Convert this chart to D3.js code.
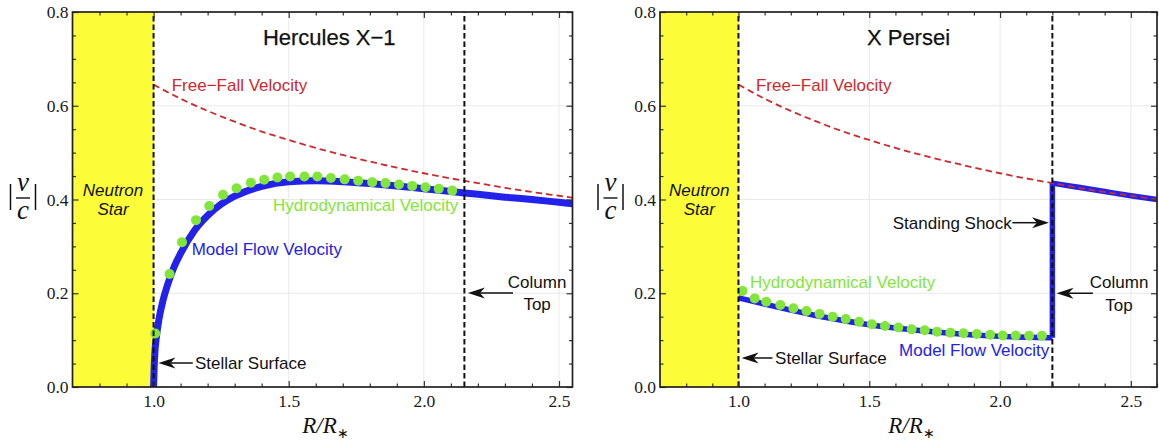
<!DOCTYPE html>
<html>
<head>
<meta charset="utf-8">
<script src="https://cdn.jsdelivr.net/npm/d3@7"></script>
<style>
body { margin: 0; background: #fff; }
text { font-family: "Liberation Sans", Arial, sans-serif; }
.tick text { font-family: "Liberation Serif", "Times New Roman", serif; font-size: 17.5px; fill: #1a1a1a; }
</style>
</head>
<body>
<svg id="chart" width="1159" height="442"></svg>
<script>
// Tick values
var x_major = [1.0, 1.5, 2.0, 2.5],
    x_minor = [0.8, 0.9, 1.1, 1.2, 1.3, 1.4, 1.6, 1.7, 1.8, 1.9, 2.1, 2.2, 2.3, 2.4, 2.6],
    y_major = [0, 0.2, 0.4, 0.6, 0.8],
    y_minor = [0.05, 0.1, 0.15, 0.25, 0.3, 0.35, 0.45, 0.5, 0.55, 0.65, 0.7, 0.75],
    y_grid = [0.2, 0.4, 0.6];

// Free-fall velocity (same curve in both panels)
var ff_r = [1.0, 1.1, 1.2, 1.3, 1.4, 1.5, 1.6, 1.7, 1.8, 1.9, 2.0, 2.1, 2.2, 2.3, 2.4, 2.5, 2.6],
    ff_v = [0.645, 0.615, 0.589, 0.566, 0.545, 0.527, 0.51, 0.495, 0.481, 0.468, 0.456, 0.445, 0.435, 0.425, 0.416, 0.408, 0.40];

// Hercules X-1
var her_model_r = [1.0, 1.002, 1.005, 1.01, 1.02, 1.035, 1.05, 1.075, 1.1, 1.15, 1.2, 1.25, 1.3, 1.4, 1.5, 1.6, 1.7, 1.8, 1.9, 2.0, 2.1, 2.2, 2.3, 2.4, 2.5, 2.55],
    her_model_v = [0.0, 0.04, 0.075, 0.105, 0.145, 0.185, 0.215, 0.255, 0.285, 0.333, 0.366, 0.39, 0.407, 0.428, 0.438, 0.44, 0.438, 0.434, 0.429, 0.423, 0.417, 0.411, 0.405, 0.4, 0.394, 0.391],
    her_hydro_r = [1.006, 1.059, 1.105, 1.157, 1.206, 1.257, 1.307, 1.36, 1.409, 1.458, 1.505, 1.558, 1.606, 1.656, 1.707, 1.757, 1.809, 1.858, 1.908, 1.957, 2.006, 2.055, 2.105],
    her_hydro_v = [0.114, 0.241, 0.309, 0.356, 0.386, 0.41, 0.424, 0.436, 0.442, 0.447, 0.449, 0.449, 0.449, 0.446, 0.443, 0.44, 0.437, 0.435, 0.432, 0.429, 0.426, 0.423, 0.419],
    her_column_top = 2.15;

// X Persei (model has a standing shock at the column top)
var per_low_r = [1.0, 1.1, 1.2, 1.3, 1.4, 1.5, 1.6, 1.7, 1.8, 1.9, 2.0, 2.1, 2.2],
    per_low_v = [0.19, 0.177, 0.164, 0.152, 0.142, 0.133, 0.126, 0.12, 0.115, 0.111, 0.108, 0.106, 0.105],
    per_high_r = [2.2, 2.3, 2.4, 2.5, 2.6],
    per_high_v = [0.435, 0.426, 0.417, 0.408, 0.40],
    per_hydro_r = [1.015, 1.062, 1.106, 1.16, 1.21, 1.26, 1.31, 1.36, 1.41, 1.461, 1.51, 1.56, 1.611, 1.662, 1.712, 1.759, 1.81, 1.86, 1.911, 1.962, 2.01, 2.06, 2.111, 2.16],
    per_hydro_v = [0.205, 0.189, 0.182, 0.175, 0.168, 0.162, 0.156, 0.15, 0.145, 0.139, 0.134, 0.13, 0.127, 0.123, 0.121, 0.118, 0.116, 0.1145, 0.113, 0.1116, 0.11, 0.11, 0.1095, 0.1094],
    per_column_top = 2.2;

var star_color = "#fcfc38",
    model_color = "#2222ea",
    hydro_color = "#82e63a",
    ff_color = "#cc2a2e",
    top_y = 12,
    bottom_y = 387;

var svg = d3.select("#chart");

function zip(a, b) { return a.map(function(d, i) { return [d, b[i]]; }); }

var panels = [
  {
    id: "her", domain: [0.7, 2.55], range: [72.5, 572.5], title: "Hercules X\u22121",
    model: [zip(her_model_r, her_model_v)], hydro: zip(her_hydro_r, her_hydro_v),
    column: her_column_top, model_width: 7,
    labels: [
      {t: "Free\u2212Fall Velocity", r: 1.067, v: 0.6315, c: ff_color},
      {t: "Hydrodynamical Velocity", r: 1.442, v: 0.3755, c: hydro_color},
      {t: "Model Flow Velocity", r: 1.141, v: 0.2816, c: model_color},
      {t: "Stellar Surface", r: 1.153, v: 0.0384, c: "#111"},
      {t: "Column", r: 2.419, v: 0.211, c: "#111", a: "middle"},
      {t: "Top", r: 2.419, v: 0.164, c: "#111", a: "middle"}
    ],
    arrows: [
      {r1: 1.145, r2: 1.018, v: 0.0512},
      {r1: 2.33, r2: 2.163, v: 0.2005}
    ]
  },
  {
    id: "per", domain: [0.7, 2.6], range: [660, 1157], title: "X Persei",
    model: [zip(per_low_r, per_low_v), zip(per_high_r, per_high_v)], hydro: zip(per_hydro_r, per_hydro_v),
    column: per_column_top, model_width: 5.5,
    labels: [
      {t: "Free\u2212Fall Velocity", r: 1.067, v: 0.6315, c: ff_color},
      {t: "Hydrodynamical Velocity", r: 1.044, v: 0.211, c: hydro_color},
      {t: "Model Flow Velocity", r: 1.614, v: 0.066, c: model_color},
      {t: "Stellar Surface", r: 1.14, v: 0.049, c: "#111"},
      {t: "Standing Shock", r: 2.045, v: 0.337, c: "#111", a: "end"},
      {t: "Column", r: 2.455, v: 0.211, c: "#111", a: "middle"},
      {t: "Top", r: 2.455, v: 0.162, c: "#111", a: "middle"}
    ],
    arrows: [
      {r1: 1.13, r2: 1.012, v: 0.0619},
      {r1: 2.047, r2: 2.187, v: 0.3505},
      {r1: 2.355, r2: 2.216, v: 0.2}
    ]
  }
];

panels.forEach(drawPanel);

function drawPanel(p) {
  var g = svg.append("g");
  var x = d3.scaleLinear().domain(p.domain).range(p.range);
  var y = d3.scaleLinear().domain([0, 0.8]).range([bottom_y, top_y]);
  var x0 = p.range[0], x1 = p.range[1];

  g.append("clipPath").attr("id", "clip_" + p.id)
    .append("rect").attr("x", x0).attr("y", top_y)
    .attr("width", x1 - x0).attr("height", bottom_y - top_y);

  var plot = g.append("g").attr("clip-path", "url(#clip_" + p.id + ")");

  // grid lines
  plot.selectAll("line.gx").data(x_major).enter().append("line")
    .attr("x1", x).attr("x2", x).attr("y1", top_y).attr("y2", bottom_y)
    .style("stroke", "#e9e9e9").style("stroke-width", 1);
  plot.selectAll("line.gy").data(y_grid).enter().append("line")
    .attr("x1", x0).attr("x2", x1).attr("y1", y).attr("y2", y)
    .style("stroke", "#e9e9e9").style("stroke-width", 1);

  // neutron star
  plot.append("rect")
    .attr("x", x(p.domain[0])).attr("y", y(0.8))
    .attr("width", x(1.0) - x(p.domain[0])).attr("height", y(0) - y(0.8))
    .style("fill", star_color);

  var curve = d3.line().x(function(d) { return x(d[0]); }).y(function(d) { return y(d[1]); })
    .curve(d3.curveMonotoneX);
  var straight = d3.line().x(function(d) { return x(d[0]); }).y(function(d) { return y(d[1]); });

  // model flow velocity
  p.model.forEach(function(seg) {
    plot.append("path").attr("d", curve(seg))
      .style("fill", "none").style("stroke", model_color)
      .style("stroke-width", p.model_width).style("stroke-linejoin", "round");
  });
  if (p.model.length > 1) {
    var a = p.model[0][p.model[0].length - 1], b = p.model[1][0];
    plot.append("path").attr("d", straight([a, b]))
      .style("fill", "none").style("stroke", model_color)
      .style("stroke-width", p.model_width);
  }

  // free-fall velocity
  plot.append("path").attr("d", curve(zip(ff_r, ff_v)))
    .style("fill", "none").style("stroke", ff_color)
    .style("stroke-width", 1.8).style("stroke-dasharray", "6.5,4");

  // hydrodynamical velocity
  plot.selectAll("circle").data(p.hydro).enter().append("circle")
    .attr("cx", function(d) { return x(d[0]); })
    .attr("cy", function(d) { return y(d[1]); })
    .attr("r", 5)
    .style("fill", hydro_color);

  // stellar surface and column top
  [1.0, p.column].forEach(function(r) {
    plot.append("line")
      .attr("x1", x(r)).attr("x2", x(r)).attr("y1", y(0)).attr("y2", y(0.8))
      .style("stroke", "#111").style("stroke-width", 2).style("stroke-dasharray", "5.5,3");
  });

  // axes (ticks pointing inward on all sides)
  var fmt = d3.format(".1f");
  var xm = x_minor.filter(function(d) { return d <= p.domain[1]; });
  g.append("g").attr("transform", "translate(0," + bottom_y + ")")
    .call(d3.axisBottom(x).tickValues(x_major).tickSize(-6).tickPadding(8).tickFormat(fmt));
  g.append("g").attr("transform", "translate(0," + bottom_y + ")")
    .call(d3.axisBottom(x).tickValues(xm).tickSize(-3.5).tickFormat(""));
  g.append("g").attr("transform", "translate(0," + top_y + ")")
    .call(d3.axisTop(x).tickValues(x_major).tickSize(-6).tickFormat(""));
  g.append("g").attr("transform", "translate(0," + top_y + ")")
    .call(d3.axisTop(x).tickValues(xm).tickSize(-3.5).tickFormat(""));
  g.append("g").attr("transform", "translate(" + x0 + ",0)")
    .call(d3.axisLeft(y).tickValues(y_major).tickSize(-6).tickPadding(4).tickFormat(fmt));
  g.append("g").attr("transform", "translate(" + x0 + ",0)")
    .call(d3.axisLeft(y).tickValues(y_minor).tickSize(-3.5).tickFormat(""));
  g.append("g").attr("transform", "translate(" + x1 + ",0)")
    .call(d3.axisRight(y).tickValues(y_major).tickSize(-6).tickFormat(""));
  g.append("g").attr("transform", "translate(" + x1 + ",0)")
    .call(d3.axisRight(y).tickValues(y_minor).tickSize(-3.5).tickFormat(""));
  g.selectAll(".domain").remove();
  g.selectAll(".tick line").style("stroke", "#333").style("stroke-width", 1.2);

  g.append("rect")
    .attr("x", x0).attr("y", top_y).attr("width", x1 - x0).attr("height", bottom_y - top_y)
    .style("fill", "none").style("stroke", "#222").style("stroke-width", 1.7);

  // title
  g.append("text").attr("x", x(1.65)).attr("y", y(0.73))
    .attr("text-anchor", "middle").style("font-size", "22px").style("fill", "#111")
    .style("stroke", "#111").style("stroke-width", 0.25)
    .text(p.title);

  // neutron star label
  ["Neutron", "Star"].forEach(function(t, i) {
    g.append("text").attr("x", x(0.85)).attr("y", y(i === 0 ? 0.4075 : 0.367))
      .attr("text-anchor", "middle").style("font-size", "17px").style("font-style", "italic")
      .style("fill", "#111").text(t);
  });

  // curve labels and annotations
  g.selectAll("text.lab").data(p.labels).enter().append("text")
    .attr("class", "lab")
    .attr("x", function(d) { return x(d.r); })
    .attr("y", function(d) { return y(d.v); })
    .attr("text-anchor", function(d) { return d.a || "start"; })
    .style("font-size", "17px")
    .style("fill", function(d) { return d.c; })
    .text(function(d) { return d.t; });

  p.arrows.forEach(function(ar) {
    var tip = x(ar.r2), tail = x(ar.r1), yy = y(ar.v), dir = tip > tail ? 1 : -1;
    g.append("line").attr("x1", tail).attr("x2", tip - dir * 12).attr("y1", yy).attr("y2", yy)
      .style("stroke", "#111").style("stroke-width", 1.5);
    g.append("path")
      .attr("d", "M" + tip + "," + yy + "L" + (tip - dir * 17) + "," + (yy - 5.5) +
                 "L" + (tip - dir * 12) + "," + yy + "L" + (tip - dir * 17) + "," + (yy + 5.5) + "Z")
      .style("fill", "#111");
  });

  // axis titles
  var serif = "'Liberation Serif', 'Times New Roman', serif";
  var xt = g.append("text").attr("x", (x0 + x1) / 2 + 3).attr("y", 433)
    .attr("text-anchor", "middle")
    .style("font-family", serif)
    .style("font-size", "23px").style("font-style", "italic").style("fill", "#111");
  xt.append("tspan").text("R/R");
  xt.append("tspan").attr("dy", 5).style("font-size", "14px").style("font-style", "normal").text("\u2217");

  var lx = x0 - 49.5;
  g.append("text").attr("x", lx).attr("y", 191).attr("text-anchor", "middle")
    .style("font-family", serif).style("font-size", "27px").style("font-style", "italic").style("fill", "#111").text("v");
  g.append("line").attr("x1", lx - 7).attr("x2", lx + 7).attr("y1", 198).attr("y2", 198)
    .style("stroke", "#111").style("stroke-width", 1.4);
  g.append("text").attr("x", lx).attr("y", 219).attr("text-anchor", "middle")
    .style("font-family", serif).style("font-size", "27px").style("font-style", "italic").style("fill", "#111").text("c");
  [lx - 12.5, lx + 12.5].forEach(function(bx) {
    g.append("line").attr("x1", bx).attr("x2", bx).attr("y1", 184).attr("y2", 210)
      .style("stroke", "#111").style("stroke-width", 1.5);
  });
}
</script>
</body>
</html>
